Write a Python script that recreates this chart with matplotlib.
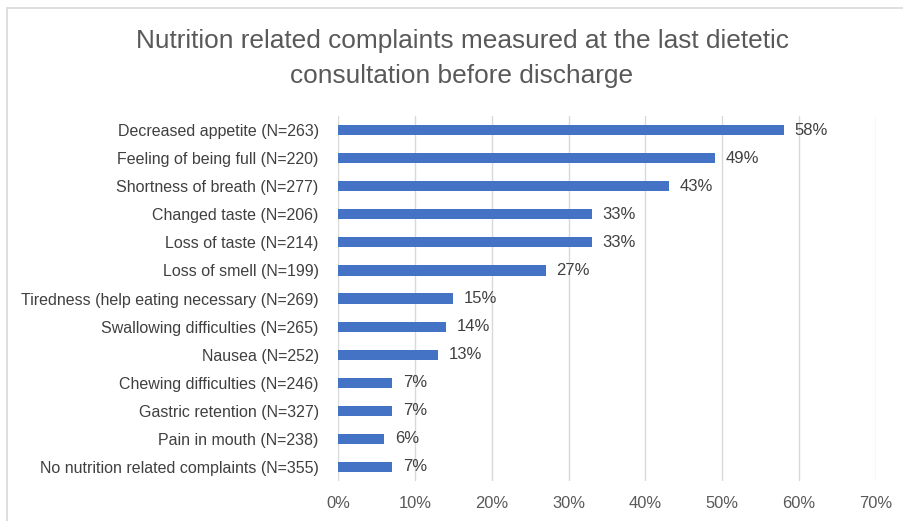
import matplotlib
matplotlib.use('Agg')
import matplotlib.pyplot as plt
from matplotlib.patches import Rectangle

""" datos """
categorias = ['Decreased appetite (N=263)', 'Feeling of being full (N=220)',
              'Shortness of breath (N=277)', 'Changed taste (N=206)',
              'Loss of taste (N=214)', 'Loss of smell (N=199)',
              'Tiredness (help eating necessary (N=269)', 'Swallowing difficulties (N=265)',
              'Nausea (N=252)', 'Chewing difficulties (N=246)',
              'Gastric retention (N=327)', 'Pain in mouth (N=238)',
              'No nutrition related complaints (N=355)']
porcentajes = [58, 49, 43, 33, 33, 27, 15, 14, 13, 7, 7, 6, 7]
ticks_x = [0, 10, 20, 30, 40, 50, 60, 70]
titulo = 'Nutrition related complaints measured at the last dietetic\nconsultation before discharge'

plt.rcParams['font.family'] = ['Liberation Sans', 'DejaVu Sans']

fig = plt.figure(figsize=(9.04, 5.21), dpi=100)
ax = fig.add_axes([0.374, 0.077, 0.595, 0.700])

# borde del grafico (solo arriba e izquierda visibles)
fig.patches.append(Rectangle((7/904, -0.1), 1.2, 1 - 8/521 + 0.1, transform=fig.transFigure,
                             fill=False, edgecolor='#d9d9d9', linewidth=1.2))

y = list(range(len(categorias)))
ax.barh(y, porcentajes, height=0.36, color='#4472c4', zorder=3)
for yi, v in zip(y, porcentajes):
    ax.text(v + 1.4, yi, f'{v}%', va='center', ha='left', fontsize=12, color='#404040')

ax.set_ylim(len(categorias) - 0.5, -0.5)
ax.set_xlim(0, 70)
ax.set_yticks(y)
ax.set_yticklabels(categorias, fontsize=11.5, color='#404040')
ax.set_xticks(ticks_x)
ax.set_xticklabels([f'{t}%' for t in ticks_x], fontsize=11.9, color='#595959')
ax.tick_params(axis='both', length=0)
ax.tick_params(axis='x', pad=11)
ax.tick_params(axis='y', pad=14)
ax.grid(axis='x', color='#d9d9d9', linewidth=1, zorder=0)
for s in ax.spines.values():
    s.set_visible(False)

fig.text(0.511, 0.945, titulo, ha='center', va='top', fontsize=18.9, color='#595959',
         linespacing=1.6)

plt.savefig('out.png', dpi=100)
